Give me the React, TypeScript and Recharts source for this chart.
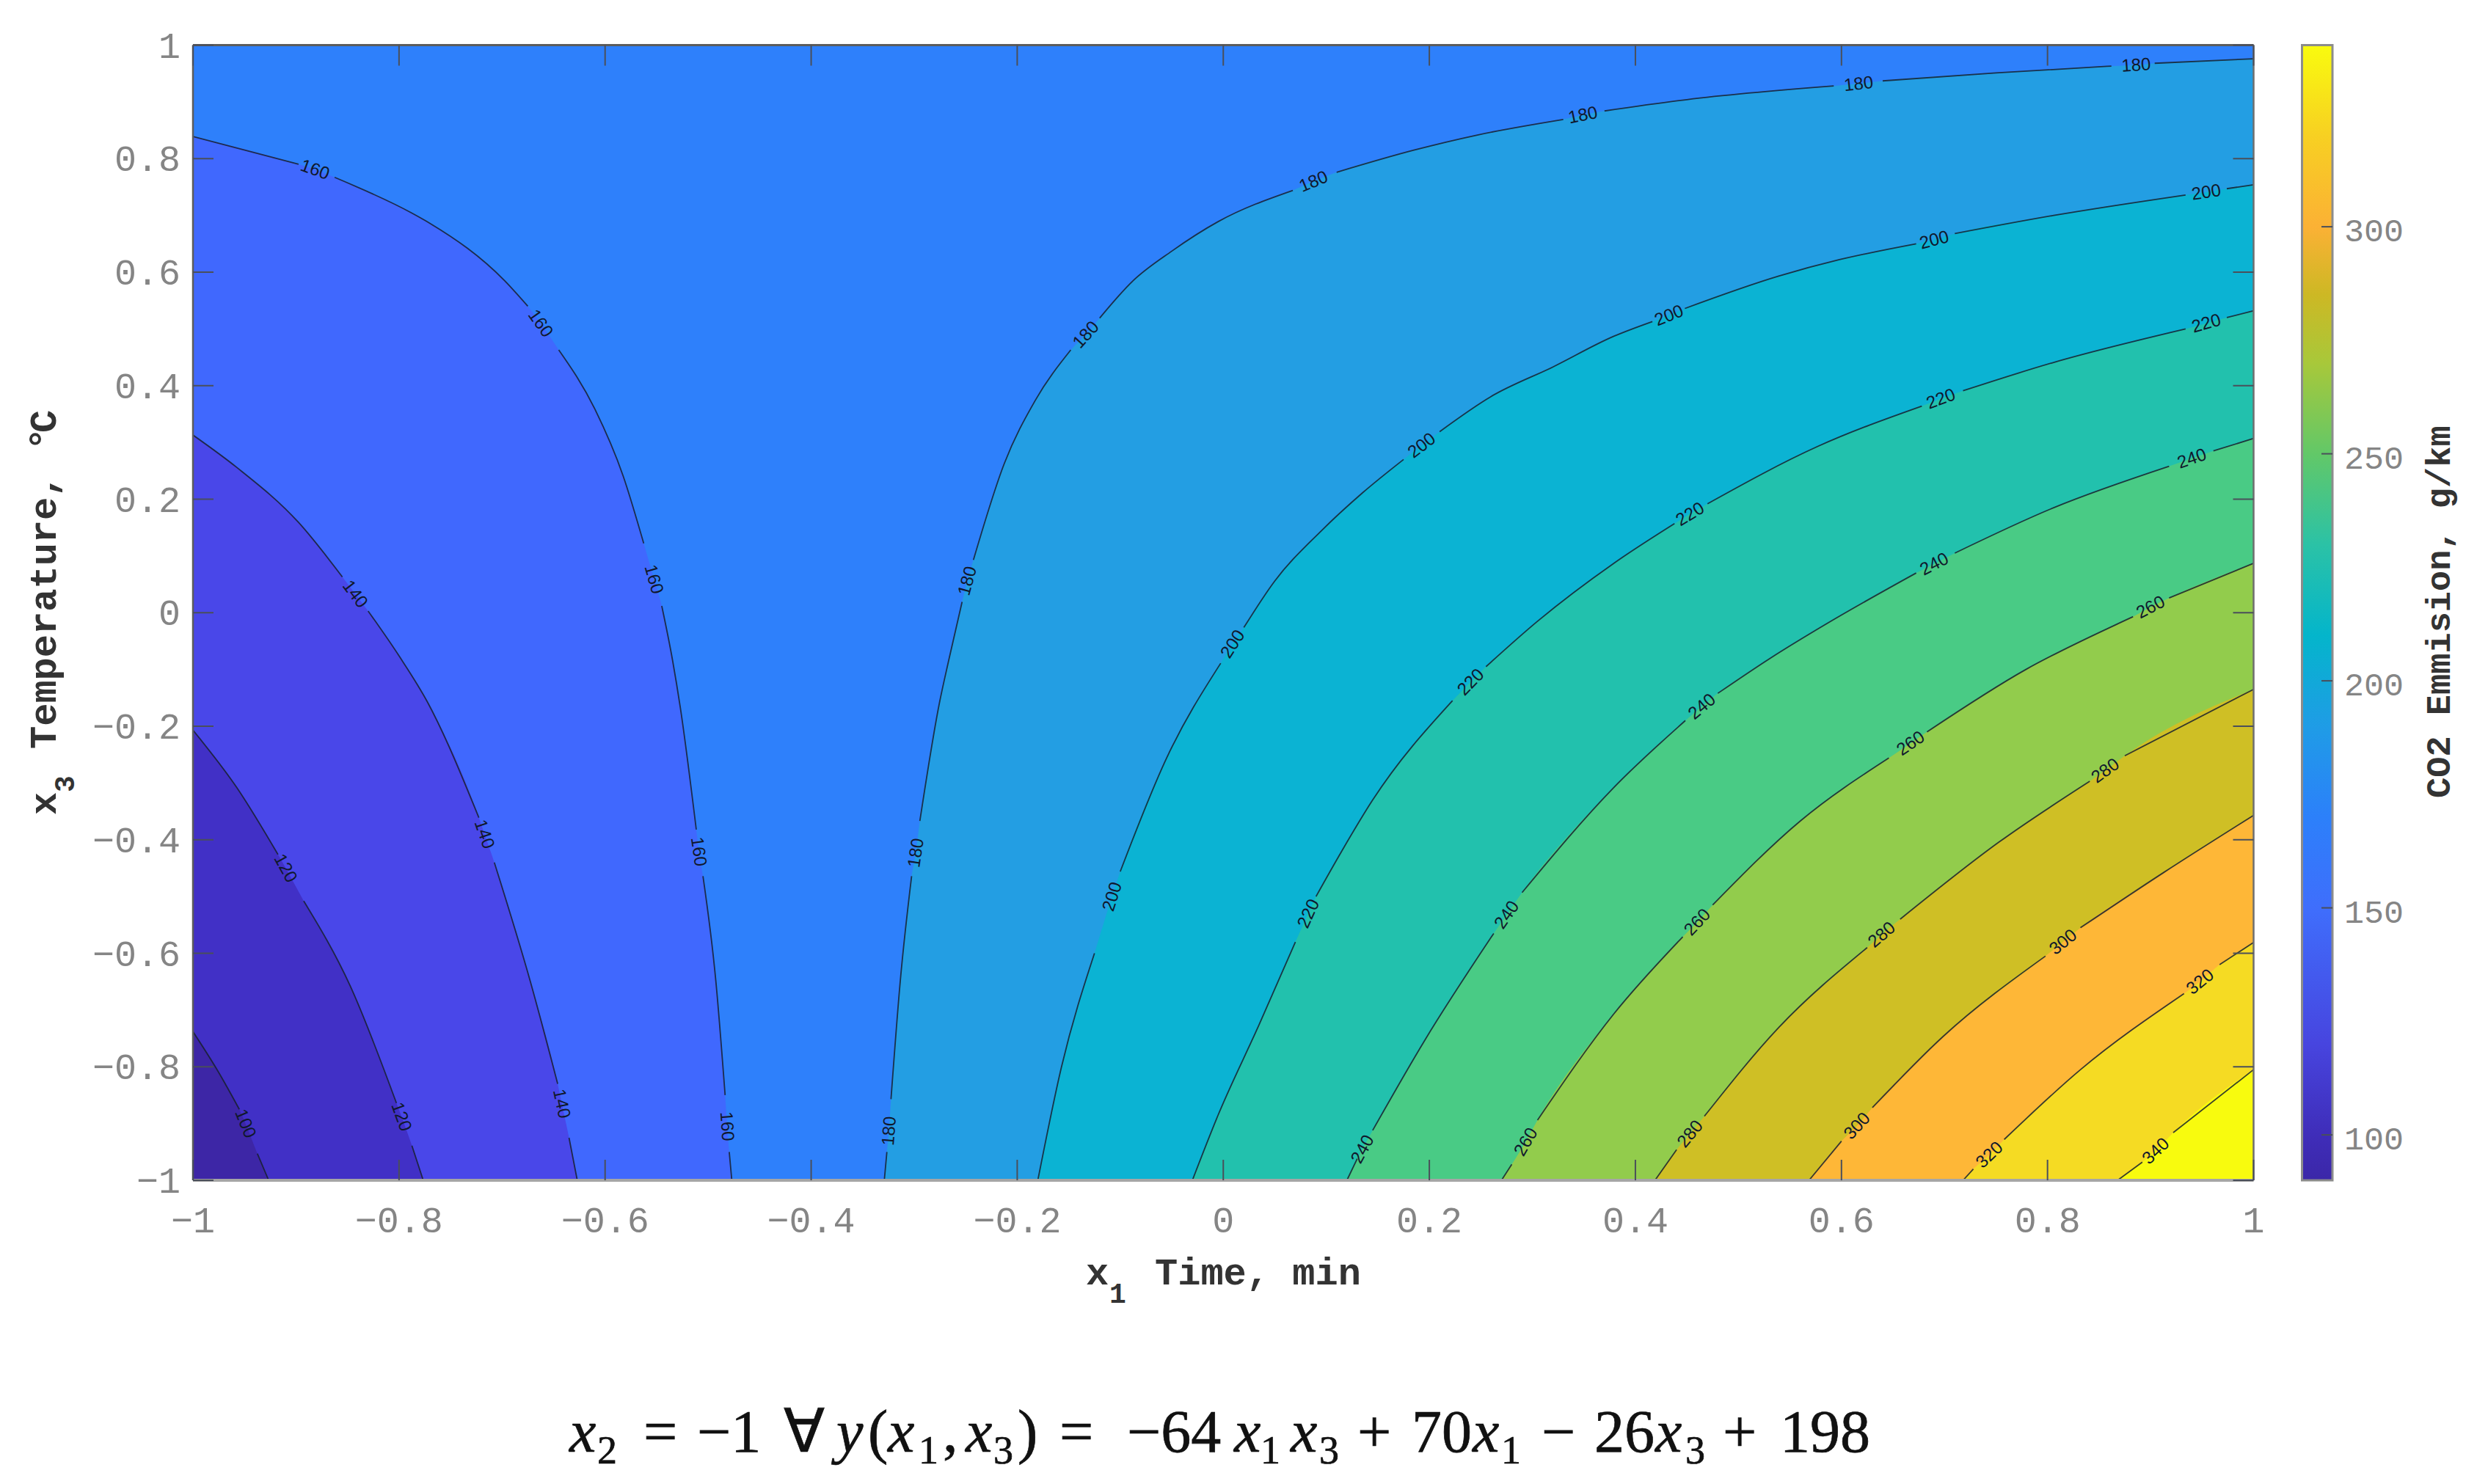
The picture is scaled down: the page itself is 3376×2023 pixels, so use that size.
import React from "react";
import { ComposedChart, Area, Line, XAxis, YAxis, ReferenceArea } from "recharts";

// Contour rows: [x1, x3] and, where the level label interrupts the line, [x1, x3, 1]
const contour100 = [[-1,-0.738],[-0.975,-0.81],[-0.955,-0.875],[-0.949,-0.9,1],[-0.9375,-0.953],[-0.9265,-1]];
const contour120 = [[-1,-0.207],[-0.9575,-0.308],[-0.9175,-0.426],[-0.91,-0.45,1],[-0.8925,-0.508],[-0.8475,-0.657],[-0.8025,-0.864],[-0.7975,-0.888,1],[-0.7875,-0.939],[-0.7765,-1]];
const contour140 = [[-1,0.313],[-0.9575,0.256],[-0.8975,0.159],[-0.855,0.063],[-0.8425,0.033,1],[-0.83,0.003],[-0.8,-0.076],[-0.7725,-0.157],[-0.7225,-0.361],[-0.717,-0.39,1],[-0.7075,-0.44],[-0.6725,-0.65],[-0.646,-0.83],[-0.642,-0.865,1],[-0.635,-0.925],[-0.627,-1]];
const contour160 = [[-1,0.839],[-0.8975,0.79],[-0.8815,0.781,1],[-0.8625,0.767],[-0.7875,0.704],[-0.77,0.686],[-0.6975,0.585],[-0.675,0.54],[-0.6625,0.51,1],[-0.645,0.463],[-0.61,0.359],[-0.5825,0.241],[-0.5625,0.122],[-0.5525,0.059,1],[-0.545,0.012],[-0.5345,-0.084],[-0.527,-0.167],[-0.5115,-0.382],[-0.509,-0.421,1],[-0.505,-0.464],[-0.4925,-0.649],[-0.4835,-0.85],[-0.4815,-0.905,1],[-0.4795,-0.95],[-0.477,-1]];
const contour180 = [[-0.329,-1],[-0.3265,-0.95],[-0.3245,-0.913,1],[-0.3225,-0.857],[-0.3135,-0.649],[-0.3025,-0.464],[-0.2985,-0.423,1],[-0.2945,-0.367],[-0.2755,-0.159],[-0.2665,-0.084],[-0.2535,0.019],[-0.2485,0.056,1],[-0.2425,0.093],[-0.2125,0.263],[-0.1825,0.374],[-0.148,0.463],[-0.1335,0.49,1],[-0.12,0.519],[-0.0875,0.585],[-0.05,0.637],[-0.005,0.689],[0.0675,0.744],[0.0875,0.76,1],[0.11,0.776],[0.185,0.815],[0.245,0.841],[0.33,0.869],[0.349,0.877,1],[0.37,0.884],[0.45,0.904],[0.5925,0.928],[0.6165,0.932,1],[0.64,0.937],[0.75,0.951],[0.862,0.963],[0.886,0.965,1],[0.904,0.968],[1,0.976]];
const contour200 = [[-0.18,-1],[-0.157,-0.8],[-0.125,-0.6],[-0.108,-0.5,1],[-0.1,-0.456],[-0.055,-0.256],[-0.0025,-0.089],[0.009,-0.055,1],[0.02,-0.026],[0.05,0.056],[0.095,0.144],[0.135,0.211],[0.175,0.27],[0.1925,0.295,1],[0.21,0.319],[0.26,0.381],[0.32,0.433],[0.379,0.487],[0.4165,0.513],[0.4325,0.524,1],[0.448,0.536],[0.539,0.593],[0.598,0.622],[0.6725,0.65],[0.69,0.657,1],[0.71,0.668],[0.806,0.7],[0.934,0.736],[0.954,0.741,1],[0.974,0.747],[1,0.754]];
const contour220 = [[-0.03,-1],[-0.005,-0.885],[0.035,-0.725],[0.07,-0.58],[0.0825,-0.53,1],[0.09,-0.5],[0.115,-0.42],[0.145,-0.33],[0.2225,-0.155],[0.24,-0.122,1],[0.255,-0.095],[0.305,-0.015],[0.379,0.087],[0.438,0.157],[0.453,0.174,1],[0.47,0.192],[0.577,0.293],[0.678,0.364],[0.6965,0.377,1],[0.718,0.391],[0.806,0.441],[0.934,0.5],[0.954,0.51,1],[0.974,0.52],[1,0.532]];
const contour240 = [[0.12,-1],[0.13,-0.962],[0.135,-0.945,1],[0.145,-0.912],[0.195,-0.755],[0.2625,-0.565],[0.275,-0.532,1],[0.29,-0.493],[0.379,-0.308],[0.4485,-0.19],[0.4645,-0.165,1],[0.48,-0.142],[0.531,-0.08],[0.585,-0.02],[0.6725,0.07],[0.69,0.086,1],[0.71,0.105],[0.806,0.185],[0.918,0.258],[0.94,0.272,1],[0.961,0.285],[1,0.307]];
const contour260 = [[0.27,-1],[0.28,-0.972],[0.2935,-0.932,1],[0.305,-0.894],[0.379,-0.707],[0.446,-0.571],[0.46,-0.545,1],[0.475,-0.515],[0.56,-0.367],[0.646,-0.256],[0.667,-0.23,1],[0.683,-0.21],[0.779,-0.1],[0.87,-0.018],[0.883,-0.007],[0.9,0.01,1],[0.918,0.026],[1,0.087]];
const contour280 = [[0.419,-1],[0.44,-0.946],[0.453,-0.918,1],[0.467,-0.887],[0.539,-0.731],[0.625,-0.59],[0.639,-0.567,1],[0.657,-0.54],[0.753,-0.404],[0.841,-0.297],[0.856,-0.278,1],[0.875,-0.252],[1,-0.135]];
const contour300 = [[0.5685,-1],[0.6,-0.931],[0.615,-0.904,1],[0.63,-0.872],[0.699,-0.746],[0.798,-0.605],[0.815,-0.58,1],[0.832,-0.555],[0.9125,-0.458],[1,-0.357]];
const contour320 = [[0.718,-1],[0.728,-0.98],[0.7435,-0.955,1],[0.758,-0.928],[0.832,-0.805],[0.9325,-0.671],[0.948,-0.65,1],[0.967,-0.62],[1,-0.581]];
const contour340 = [[0.868,-1],[0.892,-0.968],[0.905,-0.948,1],[0.922,-0.916],[1,-0.805]];

const levels = [180, 200, 220, 240, 260, 280, 300, 320, 340, 160, 140, 120, 100];
const contours = [contour180, contour200, contour220, contour240, contour260, contour280, contour300, contour320, contour340, contour160, contour140, contour120, contour100];
const bandColors = ["#239ee3", "#0bb3d3", "#22c1ad", "#49cb85", "#92cc4c", "#cfbf25", "#feb737", "#f5db23", "#f8fb0e", "#4068fe", "#4947e9", "#4130c6", "#3d26a6"];
const baseBandColor = "#2e80fb";

const xTicks = [-1, -0.8, -0.6, -0.4, -0.2, 0, 0.2, 0.4, 0.6, 0.8, 1];
const yTicks = [-1, -0.8, -0.6, -0.4, -0.2, 0, 0.2, 0.4, 0.6, 0.8, 1];
const barTicks = [100, 150, 200, 250, 300];
const barDomain = [90, 340];
const barValues = [90, 100, 120, 150, 170, 190, 210, 230, 250, 270, 285, 300, 320, 340];
const barColors = ["#3b27a8", "#3f2db9", "#4745df", "#3f6efc", "#2c80fa", "#1f9ce6", "#04b5cb", "#2bc2a6", "#62c868", "#a8c83a", "#cdb824", "#fbb135", "#f7d022", "#f9fb0e"];

const eqPieces: [string, number, string][] = [
  ["x", 776, "i"], ["2", 814, "s"], ["=", 877, "n"], ["−1", 950, "n"], ["∀", 1068, "n"], ["y", 1140, "i"],
  ["(", 1183, "n"], ["x", 1210, "i"], ["1", 1252, "s"], [",", 1285, "n"], ["x", 1316, "i"], ["3", 1354, "s"], [")", 1387, "n"],
  ["=", 1444, "n"], ["−64", 1536, "n"], ["x", 1682, "i"], ["1", 1718, "s"], ["x", 1759, "i"], ["3", 1798, "s"],
  ["+", 1850, "n"], ["70", 1924, "n"], ["x", 2007, "i"], ["1", 2046, "s"], ["−", 2101, "n"], ["26", 2173, "n"],
  ["x", 2256, "i"], ["3", 2297, "s"], ["+", 2348, "n"], ["198", 2426, "n"],
];

const W = 3376, H = 2023;
const L = 263, T = 61.5, R = 3071.5, B = 1609;
const BL = 3137.5, BR = 3179;
const MONO = "'Liberation Mono', monospace";
const pxX = (R - L) / 2, pxY = (B - T) / 2;

const toArea = (rows: number[][]) => rows.map((r) => ({ x: r[0], y: r[1] }));
const toLine = (rows: number[][]) => rows.map((r) => ({ x: r[0], y: r[2] ? null : r[1] }));
const toLabels = (rows: number[][], level: number) =>
  rows.flatMap((r, i) => {
    if (!r[2]) return [];
    const a = rows[i - 1], b = rows[i + 1];
    let deg = (Math.atan2(-(b[1] - a[1]) * pxY, (b[0] - a[0]) * pxX) * 180) / Math.PI;
    if (deg > 90) deg -= 180;
    if (deg < -90) deg += 180;
    return [{ x: r[0], y: r[1], level, deg }];
  });

const labelDot = (p: any) => (
  <text key={p.index} x={p.cx} y={p.cy} dy={8} textAnchor="middle" fontFamily="'Liberation Sans', sans-serif" fontSize={24}
    fill="#10182c" transform={`rotate(${p.payload.deg} ${p.cx} ${p.cy})`}>{p.payload.level}</text>
);

const fmt = (v: number) => String(v).replace("-", "−");
const tickStyle = { fontFamily: MONO, fontSize: 50, fill: "#858585" };
const TICK = "#4a4f5a";

const bottomTick = (p: any) => (
  <g key={p.index}>
    <line x1={p.x} x2={p.x} y1={B} y2={B - 28} stroke={TICK} strokeWidth={2} />
    <text x={p.x} y={1680} textAnchor="middle" {...tickStyle}>{fmt(p.payload.value)}</text>
  </g>
);
const topTick = (p: any) => <line key={p.index} x1={p.x} x2={p.x} y1={T} y2={T + 28} stroke={TICK} strokeWidth={2} />;
const leftTick = (p: any) => (
  <g key={p.index}>
    <line x1={L} x2={L + 28} y1={p.y} y2={p.y} stroke={TICK} strokeWidth={2} />
    <text x={246} y={p.y + 17} textAnchor="end" {...tickStyle}>{fmt(p.payload.value)}</text>
  </g>
);
const rightTick = (p: any) => <line key={p.index} x1={R} x2={R - 28} y1={p.y} y2={p.y} stroke={TICK} strokeWidth={2} />;
const barTick = (p: any) => (
  <g key={p.index}>
    <line x1={BR} x2={BR - 15} y1={p.y} y2={p.y} stroke={TICK} strokeWidth={2} />
    <text x={3195} y={p.y + 20} fontFamily={MONO} fontSize={45} fill="#858585">{p.payload.value}</text>
  </g>
);

const titleStyle = { fontFamily: MONO, fontSize: 52, fontWeight: 700, fill: "#333" };
const XTitle = () => (
  <text {...titleStyle}>
    <tspan x={1480} y={1751}>x</tspan>
    <tspan x={1512} y={1776} fontSize={38}>1</tspan>
    <tspan x={1574} y={1751}>Time, min</tspan>
  </text>
);
const YTitle = () => (
  <text {...titleStyle} transform="rotate(-90 76 1111)">
    <tspan x={76} y={1111}>x</tspan>
    <tspan x={107} y={1136} fontSize={38}>3</tspan>
    <tspan x={166} y={1111}>Temperature,</tspan>
    <tspan x={573} y={1111}>°</tspan>
    <tspan x={597} y={1111}>C</tspan>
  </text>
);
const BarTitle = () => (
  <text fontFamily={MONO} fontSize={47} fontWeight={700} fill="#333" transform="rotate(-90 3339 1088)" x={3339} y={1088}>CO2 Emmision, g/km</text>
);

const barRow = [{ x: 0, top: barDomain[1] }, { x: 1, top: barDomain[1] }];

export default function App() {
  const margin = { top: T - 1, left: L - 1, right: W - R - 1, bottom: H - B - 1 };
  const barMargin = { top: T, left: BL, right: W - BR - 1, bottom: H - B };
  return (
    <div style={{ position: "absolute", left: 0, top: 0, width: W, height: H, background: "#fff", overflow: "hidden" }}>
      <div style={{ position: "absolute", left: 0, top: 0 }}>
        <ComposedChart width={W} height={H} margin={margin} data={toArea(contour180)}>
          <ReferenceArea x1={-1} x2={1} y1={-1} y2={1} fill={baseBandColor} fillOpacity={1} stroke="none" />
          {contours.map((rows, i) => (
            <Area key={"a" + levels[i]} data={toArea(rows)} dataKey="y" type="monotone" baseValue={-1} fill={bandColors[i]} fillOpacity={1} stroke="none" isAnimationActive={false} dot={false} activeDot={false} />
          ))}
          {contours.map((rows, i) => (
            <Line key={"l" + levels[i]} data={toLine(rows)} dataKey="y" type="monotone" stroke="#18202e" strokeWidth={1.8} strokeOpacity={0.85} dot={false} activeDot={false} isAnimationActive={false} />
          ))}
          {contours.map((rows, i) => (
            <Line key={"t" + levels[i]} data={toLabels(rows, levels[i])} dataKey="y" stroke="none" dot={labelDot} activeDot={false} isAnimationActive={false} />
          ))}
          <XAxis dataKey="x" type="number" domain={[-1, 1]} ticks={xTicks} allowDataOverflow height={1} interval={0} tickSize={0} tick={bottomTick} axisLine={{ stroke: "#a6a6a6", strokeWidth: 4 }} tickLine={false} label={{ content: XTitle }} />
          <YAxis type="number" domain={[-1, 1]} ticks={yTicks} allowDataOverflow width={1} interval={0} tickSize={0} tick={leftTick} axisLine={{ stroke: "#5c5c5c", strokeWidth: 2.5 }} tickLine={false} label={{ content: YTitle }} />
          <XAxis xAxisId="top" orientation="top" dataKey="x" type="number" domain={[-1, 1]} ticks={xTicks} allowDataOverflow height={1} interval={0} tickSize={0} tick={topTick} axisLine={{ stroke: "#5c5c5c", strokeWidth: 3 }} tickLine={false} />
          <YAxis yAxisId="right" orientation="right" type="number" domain={[-1, 1]} ticks={yTicks} allowDataOverflow width={1} interval={0} tickSize={0} tick={rightTick} axisLine={{ stroke: "#6e6e6e", strokeWidth: 2.5 }} tickLine={false} />
        </ComposedChart>
      </div>
      <div style={{ position: "absolute", left: 0, top: 0 }}>
        <ComposedChart width={W} height={H} margin={barMargin} data={barRow}>
          <defs>
            <linearGradient id="barFill" x1="0" y1="1" x2="0" y2="0">
              {barValues.map((v, i) => (
                <stop key={v} offset={(v - barDomain[0]) / (barDomain[1] - barDomain[0])} stopColor={barColors[i]} />
              ))}
            </linearGradient>
          </defs>
          <Area dataKey="top" baseValue={barDomain[0]} fill="url(#barFill)" fillOpacity={1} stroke="none" isAnimationActive={false} dot={false} activeDot={false} />
          <ReferenceArea x1={0} x2={1} y1={barDomain[0]} y2={barDomain[1]} fill="none" stroke="#8c8c8c" strokeWidth={3} />
          <XAxis dataKey="x" type="number" domain={[0, 1]} hide />
          <YAxis orientation="right" type="number" domain={barDomain} ticks={barTicks} allowDataOverflow width={1} interval={0} tickSize={0} tick={barTick} axisLine={false} tickLine={false} label={{ content: BarTitle }} />
        </ComposedChart>
      </div>
      <svg width={W} height={H} style={{ position: "absolute", left: 0, top: 0 }}>
        <text fontFamily="'Liberation Serif', serif" fontSize={82} fill="#111" stroke="#111" strokeWidth={0.7}>
          {eqPieces.map(([s, x, kind], i) => (
            <tspan key={i} x={x} y={kind === "s" ? 1995 : 1979} fontStyle={kind === "i" ? "italic" : "normal"} fontSize={kind === "s" ? 54 : 82}>{s}</tspan>
          ))}
        </text>
      </svg>
    </div>
  );
}
